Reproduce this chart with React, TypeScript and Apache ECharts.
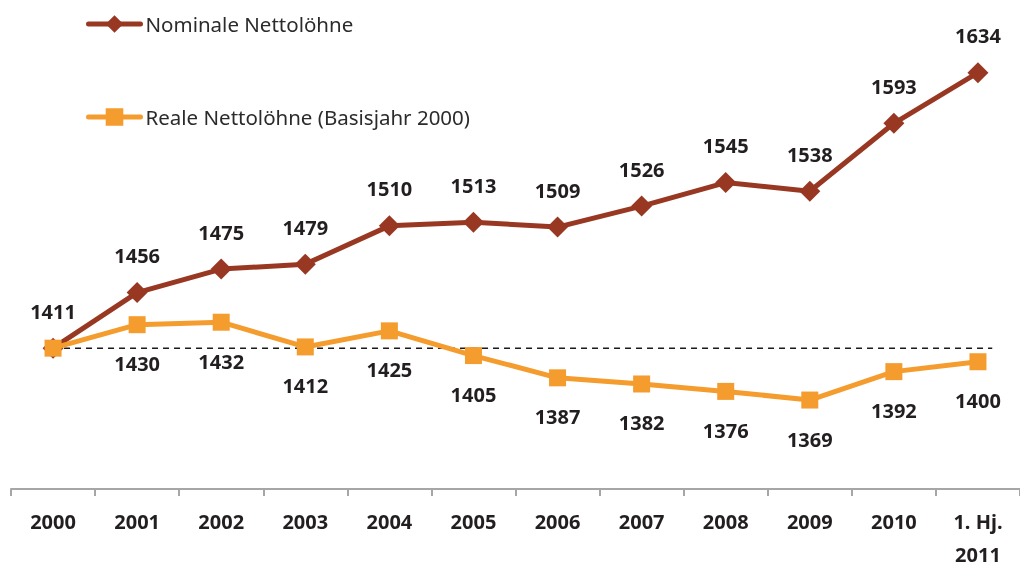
import React, { useEffect, useRef } from "react";
import * as echarts from "echarts";

const categories = ["2000", "2001", "2002", "2003", "2004", "2005", "2006", "2007", "2008", "2009", "2010", "1. Hj.\n2011"];
const nominal = [1411, 1456, 1475, 1479, 1510, 1513, 1509, 1526, 1545, 1538, 1593, 1634];
const real = [1411, 1430, 1432, 1412, 1425, 1405, 1387, 1382, 1376, 1369, 1392, 1400];
const baseLine = [[0, 1411], [11.17, 1411]];

const FONT = "'Noto Sans', 'Open Sans', sans-serif";
const RED = "#993822";
const ORANGE = "#F59C2F";
const TEXT = "#231f20";

export default function App() {
  const ref = useRef<HTMLDivElement>(null);
  useEffect(() => {
    if (!ref.current) return;
    const chart = echarts.init(ref.current, undefined, { renderer: "svg" });
    const legendText = { fontFamily: FONT, fontSize: 20.5, lineHeight: 22, color: "#2b2b2b" };
    chart.setOption({
      animation: false,
      textStyle: { fontFamily: FONT },
      grid: { left: 11, top: 1, width: 1011, height: 494, containLabel: false },
      legend: [
        {
          data: ["Nominale Nettolöhne"],
          left: 86,
          top: 13,
          padding: 0,
          itemWidth: 52,
          itemHeight: 22,
          lineStyle: { width: 5, cap: "round" },
          textStyle: legendText,
        },
        {
          data: ["Reale Nettolöhne (Basisjahr 2000)"],
          left: 86,
          top: 106,
          padding: 0,
          itemWidth: 52,
          itemHeight: 22,
          lineStyle: { width: 5, cap: "round" },
          textStyle: legendText,
        },
      ],
      xAxis: [
        {
          type: "category",
          data: categories,
          boundaryGap: true,
          axisLine: { lineStyle: { color: "#a6a6a6", width: 2 } },
          axisTick: { show: true, length: 7, lineStyle: { color: "#a6a6a6", width: 2 } },
          axisLabel: {
            fontFamily: FONT,
            fontSize: 20,
            fontWeight: "bold",
            color: TEXT,
            lineHeight: 33,
            margin: 16,
            interval: 0,
          },
          splitLine: { show: false },
        },
        { type: "value", min: -0.5, max: 11.5, show: false },
      ],
      yAxis: { type: "value", min: 1297, max: 1692, show: false, splitLine: { show: false } },
      series: [
        {
          type: "line",
          xAxisIndex: 1,
          data: baseLine,
          symbol: "none",
          silent: true,
          lineStyle: { color: "#1a1a1a", width: 1.5, type: [6, 5] },
          z: 1,
        },
        {
          name: "Nominale Nettolöhne",
          type: "line",
          data: nominal,
          symbol: "diamond",
          symbolSize: 21,
          lineStyle: { color: RED, width: 5 },
          itemStyle: { color: RED },
          label: {
            show: true,
            position: "inside",
            offset: [0, -37],
            fontFamily: FONT,
            fontSize: 20,
            fontWeight: "bold",
            color: TEXT,
          },
          z: 3,
        },
        {
          name: "Reale Nettolöhne (Basisjahr 2000)",
          type: "line",
          data: real,
          symbol: "rect",
          symbolSize: 17,
          lineStyle: { color: ORANGE, width: 5 },
          itemStyle: { color: ORANGE },
          label: {
            show: true,
            position: "inside",
            offset: [0, 39],
            fontFamily: FONT,
            fontSize: 20,
            fontWeight: "bold",
            color: TEXT,
            formatter: (p: any) => (p.dataIndex === 0 ? "" : String(p.value)),
          },
          z: 4,
        },
      ],
    });
    return () => chart.dispose();
  }, []);
  return <div ref={ref} style={{ position: "fixed", left: 0, top: 0, width: 1020, height: 571 }} />;
}
